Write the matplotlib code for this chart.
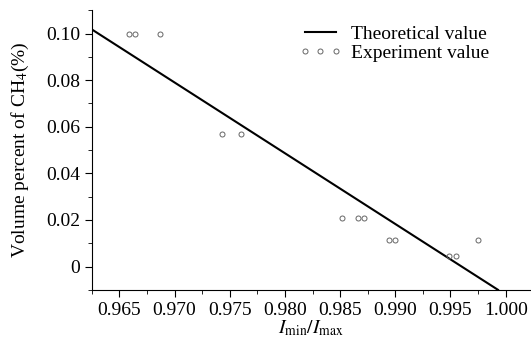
import matplotlib
matplotlib.use("Agg")
import matplotlib.pyplot as plt
from matplotlib.ticker import MultipleLocator, FuncFormatter

plt.rcParams['font.family'] = 'Liberation Serif'
plt.rcParams['mathtext.fontset'] = 'stix'

# theoretical line (endpoints)
x_theory = [0.9625, 0.9993]
y_theory = [0.1018, -0.0100]

# experiment points
x_exp = [0.9659, 0.9664, 0.9687, 0.9743, 0.9760, 0.9852, 0.9866, 0.9872,
         0.9894, 0.9900, 0.9949, 0.9955, 0.9975]
y_exp = [0.100, 0.100, 0.100, 0.057, 0.057, 0.021, 0.021, 0.021,
         0.0115, 0.0115, 0.0045, 0.0045, 0.0115]

fig = plt.figure(figsize=(5.31, 3.45), dpi=100)
ax = fig.add_axes([0.173, 0.16, 0.825, 0.81])

ax.plot(x_theory, y_theory, color='black', lw=1.5, label='Theoretical value')
ax.plot(x_exp, y_exp, ls='none', marker='o', ms=3.6, mfc='none', mec='#666666',
        mew=0.7, label='Experiment value')

ax.set_xlim(0.9625, 1.0022)
ax.set_ylim(-0.01, 0.110)

ax.xaxis.set_major_locator(MultipleLocator(0.005))
ax.xaxis.set_minor_locator(MultipleLocator(0.0025))
ax.yaxis.set_major_locator(MultipleLocator(0.02))
ax.yaxis.set_minor_locator(MultipleLocator(0.01))
ax.xaxis.set_major_formatter(FuncFormatter(lambda v, p: f"{v:.3f}"))
ax.yaxis.set_major_formatter(FuncFormatter(lambda v, p: "0" if abs(v) < 1e-9 else f"{v:.2f}"))

for s in ['top', 'right']:
    ax.spines[s].set_visible(False)
ax.tick_params(which='both', direction='out', labelsize=14)
ax.tick_params(which='major', length=5)
ax.tick_params(which='minor', length=3)

ax.set_xlabel(r'$I_{\mathrm{min}}/I_{\mathrm{max}}$', fontsize=14, labelpad=0)
ax.set_ylabel(r'Volume percent of CH$_4$(%)', fontsize=14, labelpad=11)

ax.legend(loc='upper right', bbox_to_anchor=(0.925, 0.975), frameon=False,
          fontsize=14, numpoints=3, handlelength=2.2, handletextpad=0.5,
          borderaxespad=0, labelspacing=0.1)

fig.savefig('out.png', dpi=100)
